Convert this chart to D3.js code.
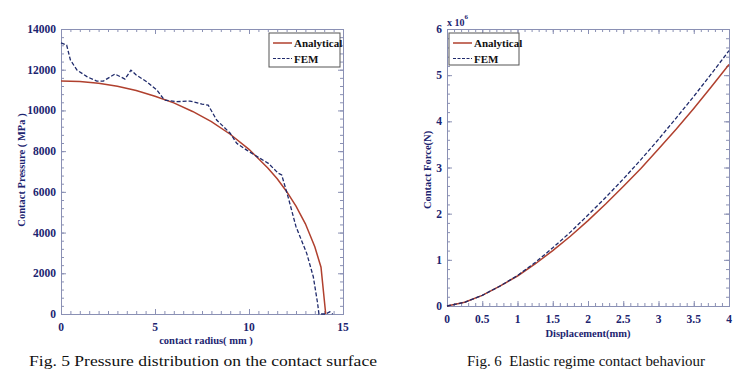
<!DOCTYPE html>
<html><head><meta charset="utf-8">
<script src="https://cdn.jsdelivr.net/npm/d3@7"></script>
<style>
body{margin:0;background:#fff;}
text{font-family:"Liberation Serif","Times New Roman",serif;}
</style></head>
<body><svg id="c" width="750" height="378"></svg>
<script>
// ---- Fig.5 data ----
const pressAnalyticalR = [0,1,2,3,4,5,6,7,8,9,10,11,11.5,12,12.5,13,13.5,13.83,14.08];
const pressAnalyticalP = [11450,11420,11330,11190,10980,10700,10370,9950,9450,8830,8090,7170,6640,6020,5300,4430,3300,2300,0];
const pressFemR = [0,0.3,0.5,0.85,1.4,1.9,2.25,2.87,3.4,3.72,4.0,4.56,5.1,5.5,6.15,6.86,7.5,7.83,8.28,9.0,9.35,9.88,10.58,11.03,11.56,11.74,12.1,12.5,13.07,13.42,13.65,13.72,14.08,14.3,14.45];
const pressFemP = [13320,13210,12480,11980,11650,11440,11440,11790,11540,11980,11740,11410,11000,10510,10430,10460,10310,10260,9530,8880,8380,8050,7650,7400,6910,6830,5680,4290,2980,1830,520,0,0,110,0];
const fig5XTicks = [0,5,10,15];
const fig5YTicks = [0,2000,4000,6000,8000,10000,12000,14000];
// ---- Fig.6 data ----
const dispX = [0,0.25,0.5,0.75,1,1.25,1.5,1.75,2,2.25,2.5,2.75,3,3.25,3.5,3.75,4];
const forceAnalytical = [0,0.08,0.23,0.43,0.65,0.91,1.20,1.51,1.85,2.21,2.59,2.98,3.40,3.83,4.28,4.75,5.23];
const forceFem = [0,0.08,0.23,0.43,0.66,0.94,1.26,1.60,1.97,2.35,2.75,3.17,3.61,4.07,4.54,5.03,5.53];
const fig6XTicks = [0,0.5,1,1.5,2,2.5,3,3.5,4];
const fig6YTicks = [0,1,2,3,4,5,6];
const legendLabels = ["Analytical","FEM"];
const captions = ["Fig. 5 Pressure distribution on the contact surface","Fig. 6  Elastic regime contact behaviour"];

const RED = "#b0402e", BLUE = "#1f2a6b", AXIS = "#8a90b4", TXT = "#1c2470";
const svg = d3.select("#c");

function panel(cfg){
  const g = svg.append("g");
  const x = d3.scaleLinear().domain(cfg.xd).range([cfg.L, cfg.R]);
  const y = d3.scaleLinear().domain(cfg.yd).range([cfg.B, cfg.T]);
  const xMinor = d3.range(cfg.xd[0], cfg.xd[1] + 1e-9, cfg.xm);
  const yMinor = d3.range(cfg.yd[0], cfg.yd[1] + 1e-9, cfg.ym);
  const mk = (sel, scale, ticks, len, orient) => {
    const ax = (orient==="b"?d3.axisBottom:orient==="t"?d3.axisTop:orient==="l"?d3.axisLeft:d3.axisRight)(scale)
      .tickValues(ticks).tickSize(-len).tickFormat("");
    sel.call(ax);
    sel.selectAll("line").attr("stroke", AXIS);
    sel.select(".domain").attr("stroke", AXIS);
  };
  [["b",`translate(0,${cfg.B})`,x,xMinor,3],["b",`translate(0,${cfg.B})`,x,cfg.xt,5],
   ["t",`translate(0,${cfg.T})`,x,xMinor,3],["t",`translate(0,${cfg.T})`,x,cfg.xt,5],
   ["l",`translate(${cfg.L},0)`,y,yMinor,3],["l",`translate(${cfg.L},0)`,y,cfg.yt,5],
   ["r",`translate(${cfg.R},0)`,y,yMinor,3],["r",`translate(${cfg.R},0)`,y,cfg.yt,5]]
   .forEach(([o,t,s,tv,len])=>{ mk(g.append("g").attr("transform",t), s, tv, len, o); });
  g.selectAll(".xl").data(cfg.xt).join("text").attr("x", d=>x(d)).attr("y", cfg.xly)
    .attr("text-anchor","middle").attr("font-size",cfg.fs).attr("font-weight","bold").attr("fill",TXT).text(d=>d);
  g.selectAll(".yl").data(cfg.yt).join("text").attr("x", cfg.L-cfg.ylo).attr("y", d=>y(d)+cfg.fs*0.35)
    .attr("text-anchor","end").attr("font-size",cfg.fs).attr("font-weight","bold").attr("fill",TXT).text(d=>d);
  const line = d3.line().x(d=>x(d[0])).y(d=>y(d[1]));
  g.append("path").datum(d3.zip(cfg.ax, cfg.ay)).attr("d", line).attr("fill","none").attr("stroke",RED).attr("stroke-width",1.5);
  g.append("path").datum(d3.zip(cfg.fx, cfg.fy)).attr("d", line).attr("fill","none").attr("stroke",BLUE).attr("stroke-width",1.3).attr("stroke-dasharray","4,2");
  g.append("text").attr("transform",`translate(${cfg.ytx},${cfg.yty}) rotate(-90)`).attr("text-anchor","middle")
    .attr("font-size",cfg.tfs).attr("font-weight","bold").attr("fill",TXT).text(cfg.ytitle);
  g.append("text").attr("x",cfg.xtx).attr("y",cfg.xty).attr("text-anchor","middle")
    .attr("font-size",cfg.tfs).attr("font-weight","bold").attr("fill",TXT).text(cfg.xtitle);
  const lg = g.append("g");
  lg.append("rect").attr("x",cfg.lx).attr("y",cfg.ly).attr("width",cfg.lw).attr("height",cfg.lh)
    .attr("fill","#fff").attr("stroke","#555").attr("stroke-width",1);
  legendLabels.forEach((lab,i)=>{
    const yy = cfg.ly + 10 + i*15.5;
    lg.append("line").attr("x1",cfg.lx+4).attr("x2",cfg.lx+23).attr("y1",yy).attr("y2",yy)
      .attr("stroke", i===0?RED:BLUE).attr("stroke-width", i===0?1.5:1.2).attr("stroke-dasharray", i===0?null:"3,1.5");
    lg.append("text").attr("x",cfg.lx+25).attr("y",yy+4).attr("font-size",11).attr("font-weight","bold")
      .attr("fill","#111").text(lab);
  });
  return {g,x,y};
}

panel({xd:[0,15], yd:[0,14000], L:61, R:343, T:29, B:314, xm:0.5, ym:400, xt:fig5XTicks, yt:fig5YTicks,
  xly:331, ylo:5, fs:11.5, ax:pressAnalyticalR, ay:pressAnalyticalP, fx:pressFemR, fy:pressFemP,
  ytitle:"Contact Pressure ( MPa )", ytx:25, yty:170, xtitle:"contact radius( mm )", xtx:206, xty:344, tfs:10.5,
  lx:269, ly:33, lw:71, lh:34});
panel({xd:[0,4], yd:[0,6], L:447, R:729, T:29, B:306, xm:0.1, ym:0.2, xt:fig6XTicks, yt:fig6YTicks,
  xly:323, ylo:5, fs:11.5, ax:dispX, ay:forceAnalytical, fx:dispX, fy:forceFem,
  ytitle:"Contact Force(N)", ytx:431, yty:170, xtitle:"Displacement(mm)", xtx:588, xty:337, tfs:10.5,
  lx:449, ly:33, lw:70, lh:32});
const mt = svg.append("text").attr("x",447).attr("y",26).attr("font-size",10).attr("font-weight","bold").attr("fill",TXT);
mt.append("tspan").text("x 10");
mt.append("tspan").attr("dy",-7).attr("font-size",7).text("6");
svg.append("text").attr("x",29).attr("y",366).attr("font-size",15.5).attr("fill","#111")
  .attr("textLength",348).attr("lengthAdjust","spacingAndGlyphs").text(captions[0]);
svg.append("text").attr("x",467).attr("y",366).attr("font-size",15.5).attr("fill","#111").attr("xml:space","preserve")
  .attr("textLength",238).attr("lengthAdjust","spacingAndGlyphs").text(captions[1]);
</script></body></html>
